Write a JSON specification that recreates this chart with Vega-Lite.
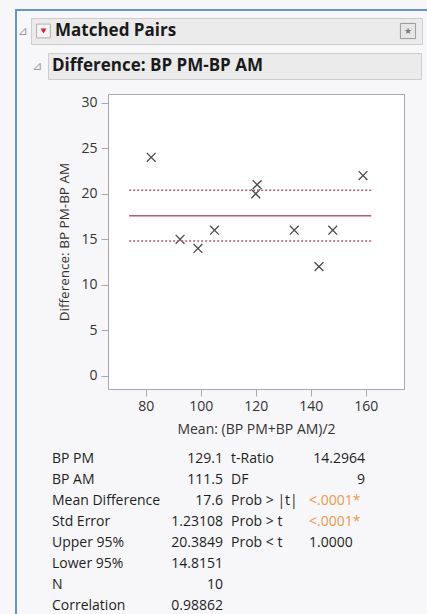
{
  "$schema": "https://vega.github.io/schema/vega-lite/v6.json",
  "background": "#f7f7f9",
  "padding": {"left": 15, "top": 9, "right": 0, "bottom": 0},
  "autosize": {"type": "pad"},
  "config": {"view": {"stroke": null}, "font": "Open Sans", "concat": {"spacing": 0}},
  "spacing": 0,
  "hconcat": [
    {"width": 2, "height": 605, "view": {"fill": "#6693d4", "stroke": null}, "data": {"values": []}, "mark": "rect", "encoding": {}},
    {
      "spacing": 0,
      "vconcat": [
        {"width": 410, "height": 2, "view": {"fill": "#6693d4", "stroke": null}, "data": {"values": []}, "mark": "rect", "encoding": {}},
        {"width": 1, "height": 5.5, "data": {"values": []}, "mark": "rect", "encoding": {}},
        {
          "spacing": 0,
          "hconcat": [
            {
              "width": 13, "height": 26,
              "data": {"values": [{"g": "⊿"}]},
              "mark": {"type": "text", "font": "DejaVu Sans", "fontSize": 12, "color": "#9a9a9a", "align": "center", "baseline": "middle"},
              "encoding": {"x": {"datum": 6, "type": "quantitative", "scale": {"domain": [0, 13], "nice": false, "zero": false}, "axis": null}, "text": {"field": "g"}}
            },
            {
              "width": 391, "height": 26,
              "view": {"fill": "#ebebeb", "stroke": "#cdcdcd"},
              "data": {"values": [{"t": "Matched Pairs"}]},
              "layer": [
                {"mark": {"type": "point", "shape": "square", "filled": true, "fill": "#f4f4f4", "stroke": "#b0b0b0", "strokeWidth": 1, "size": 190, "opacity": 1},
                 "encoding": {"x": {"datum": 12.5, "type": "quantitative", "scale": {"domain": [0, 391], "nice": false, "zero": false}, "axis": null}}},
                {"mark": {"type": "point", "shape": "triangle-down", "filled": true, "fill": "#d9232b", "strokeWidth": 0, "size": 35, "opacity": 1},
                 "encoding": {"x": {"datum": 12.5, "type": "quantitative"}}},
                {"mark": {"type": "point", "shape": "square", "filled": true, "fill": "#e6e6e6", "stroke": "#9a9a9a", "strokeWidth": 1, "size": 230, "opacity": 1},
                 "encoding": {"x": {"datum": 377, "type": "quantitative"}}},
                {"mark": {"type": "text", "text": "★", "font": "DejaVu Sans", "fontSize": 9, "color": "#7a7a7a", "align": "center", "baseline": "middle"},
                 "encoding": {"x": {"datum": 377, "type": "quantitative"}}},
                {"mark": {"type": "text", "align": "left", "baseline": "middle", "fontSize": 17, "fontWeight": "bold", "color": "#1a1a1a"},
                 "encoding": {"x": {"datum": 24, "type": "quantitative"}, "text": {"field": "t"}}}
              ]
            }
          ]
        },
        {"width": 1, "height": 7, "data": {"values": []}, "mark": "rect", "encoding": {}},
        {
          "spacing": 0,
          "hconcat": [
            {
              "width": 30, "height": 26,
              "data": {"values": [{"g": "⊿"}]},
              "mark": {"type": "text", "font": "DejaVu Sans", "fontSize": 12, "color": "#9a9a9a", "align": "center", "baseline": "middle"},
              "encoding": {"x": {"datum": 20.5, "type": "quantitative", "scale": {"domain": [0, 30], "nice": false, "zero": false}, "axis": null}, "text": {"field": "g"}}
            },
            {
              "width": 373, "height": 26,
              "view": {"fill": "#ebebeb", "stroke": "#cdcdcd"},
              "data": {"values": [{"t": "Difference: BP PM-BP AM"}]},
              "mark": {"type": "text", "align": "left", "baseline": "middle", "fontSize": 17, "fontWeight": "bold", "color": "#1a1a1a"},
              "encoding": {"x": {"datum": 4, "type": "quantitative", "scale": {"domain": [0, 373], "nice": false, "zero": false}, "axis": null}, "text": {"field": "t"}}
            }
          ]
        },
        {"width": 1, "height": 13, "data": {"values": []}, "mark": "rect", "encoding": {}},
        {
          "spacing": 0,
          "hconcat": [
            {"width": 40, "height": 354.5, "data": {"values": []}, "mark": "rect", "encoding": {}},
            {
              "width": 296, "height": 295,
              "view": {"fill": "#ffffff", "stroke": "#a8a8a8"},
              "layer": [
                {
                  "data": {"values": [
                    {"mean": 82, "diff": 24},
                    {"mean": 92.5, "diff": 15},
                    {"mean": 99, "diff": 14},
                    {"mean": 105, "diff": 16},
                    {"mean": 120.5, "diff": 21},
                    {"mean": 120, "diff": 20},
                    {"mean": 134, "diff": 16},
                    {"mean": 143, "diff": 12},
                    {"mean": 148, "diff": 16},
                    {"mean": 159, "diff": 22}
                  ]},
                  "mark": {"type": "point", "shape": "M-1,-1L1,1M-1,1L1,-1", "filled": false, "stroke": "#4a4a4a", "strokeWidth": 1.3, "size": 78, "opacity": 1},
                  "encoding": {
                    "x": {"field": "mean", "type": "quantitative",
                      "scale": {"domain": [66.3, 173.9], "nice": false, "zero": false},
                      "axis": {"values": [80, 100, 120, 140, 160], "title": "Mean: (BP PM+BP AM)/2", "grid": false, "domain": false, "tickSize": 7, "tickColor": "#a8a8a8", "labelFont": "Open Sans", "labelFontSize": 14, "labelColor": "#333333", "labelPadding": 3, "titleFont": "Open Sans", "titleFontSize": 14, "titleFontWeight": "normal", "titleColor": "#333333", "titlePadding": 9}},
                    "y": {"field": "diff", "type": "quantitative",
                      "scale": {"domain": [-1.43, 30.95], "nice": false, "zero": false},
                      "axis": {"values": [0, 5, 10, 15, 20, 25, 30], "title": "Difference: BP PM-BP AM", "grid": false, "domain": false, "tickSize": 7, "tickColor": "#a8a8a8", "labelFont": "Open Sans", "labelFontSize": 14, "labelColor": "#333333", "labelPadding": 4, "titleFont": "Open Sans", "titleFontSize": 13.5, "titleFontWeight": "normal", "titleColor": "#333333", "titlePadding": 9}}
                  }
                },
                {
                  "data": {"values": [
                    {"stat": "Mean Difference", "value": 17.6, "kind": "mean"},
                    {"stat": "Upper 95%", "value": 20.3849, "kind": "ci"},
                    {"stat": "Lower 95%", "value": 14.8151, "kind": "ci"}
                  ]},
                  "mark": {"type": "rule", "color": "#b35a7a", "strokeWidth": 1.5},
                  "encoding": {
                    "x": {"datum": 74, "type": "quantitative"},
                    "x2": {"datum": 162},
                    "y": {"field": "value", "type": "quantitative"},
                    "strokeDash": {"field": "kind", "type": "nominal", "scale": {"domain": ["mean", "ci"], "range": [[1, 0], [2, 2]]}, "legend": null}
                  }
                }
              ]
            }
          ]
        },
        {
          "spacing": 0,
          "hconcat": [
            {"width": 30, "height": 1, "data": {"values": []}, "mark": "rect", "encoding": {}},
            {
              "width": 373, "height": 167,
              "data": {"values": [
                {"row": 1, "label": "BP PM", "value": "129.1", "label2": "t-Ratio", "value2": "14.2964", "p": ""},
                {"row": 2, "label": "BP AM", "value": "111.5", "label2": "DF", "value2": "9", "p": ""},
                {"row": 3, "label": "Mean Difference", "value": "17.6", "label2": "Prob > |t|", "value2": "", "p": "<.0001*"},
                {"row": 4, "label": "Std Error", "value": "1.23108", "label2": "Prob > t", "value2": "", "p": "<.0001*"},
                {"row": 5, "label": "Upper 95%", "value": "20.3849", "label2": "Prob < t", "value2": "", "p": "1.0000"},
                {"row": 6, "label": "Lower 95%", "value": "14.8151", "label2": "", "value2": "", "p": ""},
                {"row": 7, "label": "N", "value": "10", "label2": "", "value2": "", "p": ""},
                {"row": 8, "label": "Correlation", "value": "0.98862", "label2": "", "value2": "", "p": ""}
              ]},
              "encoding": {"y": {"field": "row", "type": "ordinal", "axis": null}},
              "layer": [
                {"mark": {"type": "text", "align": "left", "baseline": "middle", "fontSize": 14, "color": "#1e1e1e"},
                 "encoding": {"x": {"datum": 5, "type": "quantitative", "scale": {"domain": [0, 373], "nice": false, "zero": false}, "axis": null}, "text": {"field": "label"}}},
                {"mark": {"type": "text", "align": "right", "baseline": "middle", "fontSize": 14, "color": "#1e1e1e"},
                 "encoding": {"x": {"datum": 176, "type": "quantitative"}, "text": {"field": "value"}}},
                {"mark": {"type": "text", "align": "left", "baseline": "middle", "fontSize": 14, "color": "#1e1e1e"},
                 "encoding": {"x": {"datum": 184, "type": "quantitative"}, "text": {"field": "label2"}}},
                {"mark": {"type": "text", "align": "right", "baseline": "middle", "fontSize": 14, "color": "#1e1e1e"},
                 "encoding": {"x": {"datum": 318, "type": "quantitative"}, "text": {"field": "value2"}}},
                {"mark": {"type": "text", "align": "left", "baseline": "middle", "fontSize": 14},
                 "encoding": {"x": {"datum": 262, "type": "quantitative"}, "text": {"field": "p"},
                   "color": {"condition": {"test": "indexof(datum.p, '*') >= 0", "value": "#ec9a48"}, "value": "#1e1e1e"}}}
              ]
            }
          ]
        }
      ]
    }
  ]
}
